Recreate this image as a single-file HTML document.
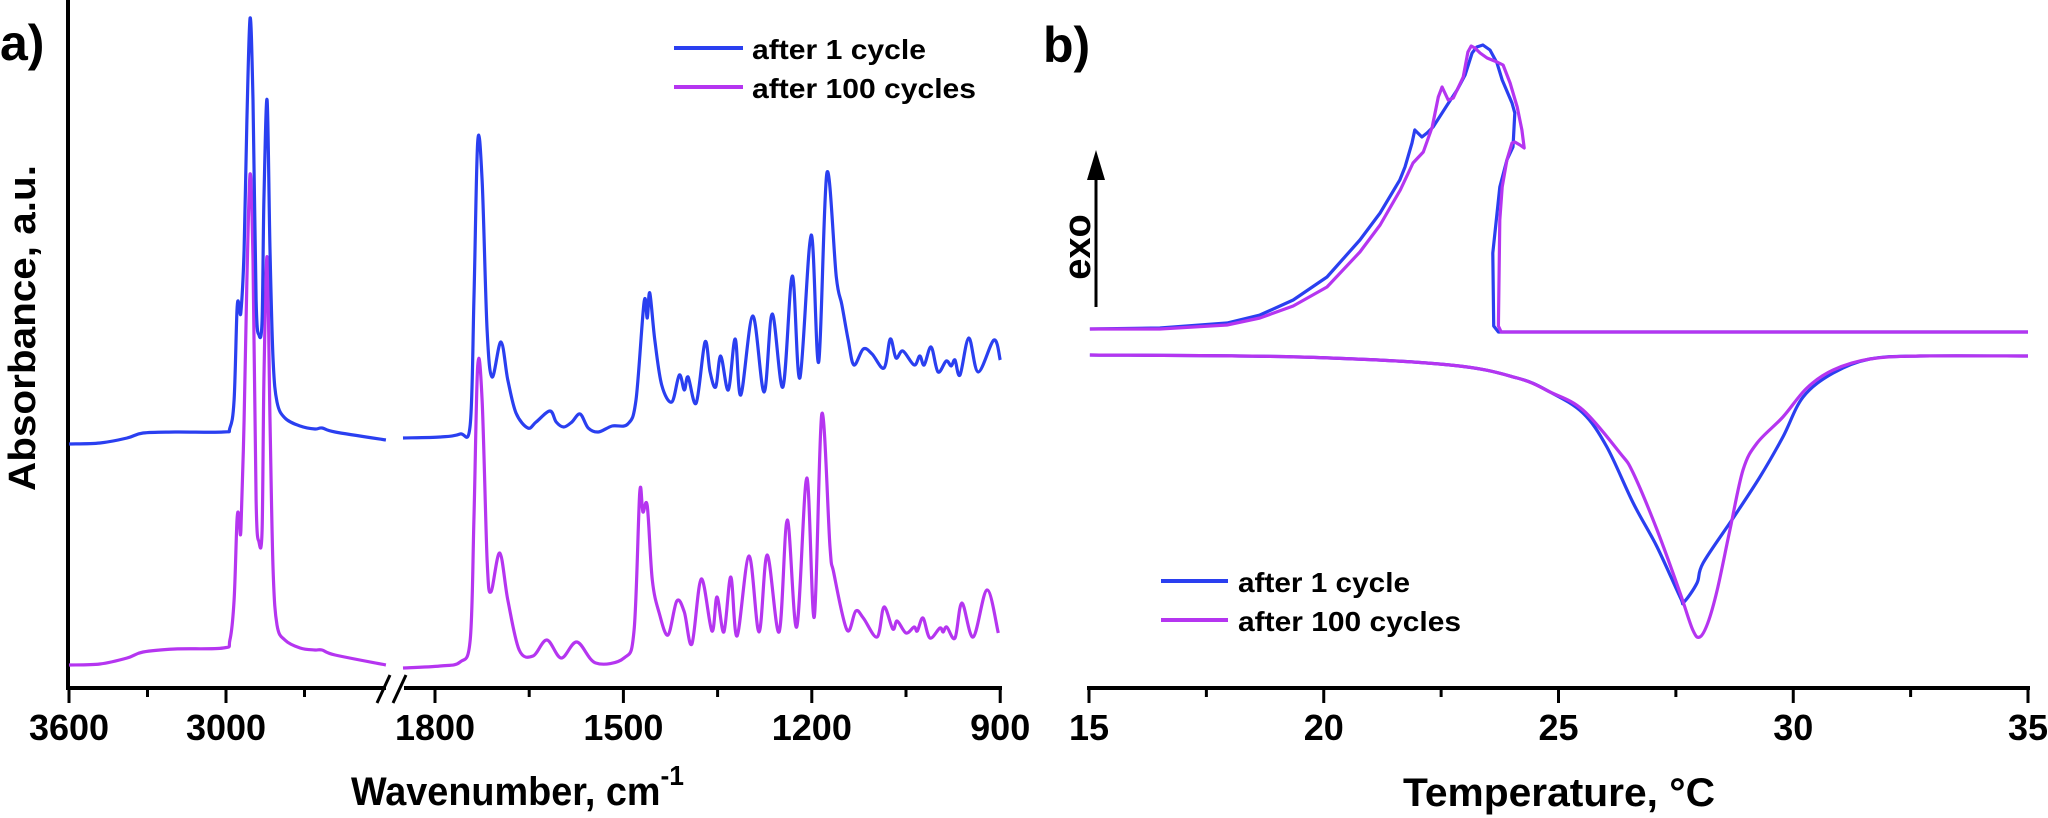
<!DOCTYPE html>
<html><head><meta charset="utf-8"><style>
html,body{margin:0;padding:0;background:#fff;}
svg{display:block;}
text{font-family:"Liberation Sans",sans-serif;font-weight:bold;fill:#000;}
</style></head><body>
<svg id="fig" width="2048" height="818" viewBox="0 0 2048 818" xmlns="http://www.w3.org/2000/svg">
<g id="axesA"></g>
<g id="axesB"></g>
<g id="plotA"></g>
<g id="plotB"></g>
<text x="0" y="60" font-size="50">a)</text>
<text x="1043" y="62" font-size="50">b)</text>
<text transform="translate(35,328) rotate(-90)" text-anchor="middle" font-size="38" textLength="326" lengthAdjust="spacingAndGlyphs">Absorbance, a.u.</text>
<text x="351" y="805" font-size="40" textLength="333" lengthAdjust="spacingAndGlyphs">Wavenumber, cm<tspan dy="-20" font-size="28">-1</tspan></text>
<text x="1403" y="806" font-size="40" textLength="312" lengthAdjust="spacingAndGlyphs">Temperature, °C</text>
<text transform="translate(1090,247) rotate(-90)" text-anchor="middle" font-size="38">exo</text>
<line x1="1096" y1="307" x2="1096" y2="165" stroke="#000" stroke-width="3"/>
<polygon points="1096,150 1087,180 1105,180" fill="#000"/>
<g>
<line x1="674" y1="48" x2="743" y2="48" stroke="#2a3ff0" stroke-width="4"/>
<text x="752" y="59" font-size="28" textLength="174" lengthAdjust="spacingAndGlyphs">after 1 cycle</text>
<line x1="674" y1="87" x2="743" y2="87" stroke="#b535f0" stroke-width="4"/>
<text x="752" y="98" font-size="28" textLength="224" lengthAdjust="spacingAndGlyphs">after 100 cycles</text>
</g>
<g>
<line x1="1161" y1="581" x2="1228" y2="581" stroke="#2a3ff0" stroke-width="4"/>
<text x="1238" y="592" font-size="28" textLength="172" lengthAdjust="spacingAndGlyphs">after 1 cycle</text>
<line x1="1161" y1="620" x2="1228" y2="620" stroke="#b535f0" stroke-width="4"/>
<text x="1238" y="631" font-size="28" textLength="223" lengthAdjust="spacingAndGlyphs">after 100 cycles</text>
</g>
</svg>
<script>
// ---- Panel a data (wavenumber, absorbance a.u. x100) ----
const blueLeftWn=[3600,3482,3378,3317,3195,3011,2985,2969,2958,2950,2943,2931,2920,2908,2897,2885,2874,2862,2855,2843,2832,2820,2805,2775,2717,2660,2633,2583,2389];
const blueLeftAbs=[244,245,250,255,256,256,260,288,378,384,376,438,568,670,588,388,353,368,488,588,438,328,286,270,262,259,260,256,248];
const magLeftWn=blueLeftWn.slice();
const magLeftAbs=[23,24,30,36,39,40,48,88,168,172,158,268,408,514,428,188,146,158,308,431,268,118,63,48,40,38,38,33,23];
const blueRightWn=[1851,1792,1760,1744,1738,1732,1725,1717,1709,1695,1684,1671,1652,1639,1617,1607,1595,1582,1569,1556,1540,1518,1493,1480,1467,1462,1458,1450,1439,1423,1411,1403,1397,1384,1370,1362,1353,1345,1333,1322,1313,1294,1276,1263,1246,1231,1219,1201,1189,1176,1161,1152,1142,1133,1118,1104,1085,1075,1066,1055,1037,1028,1021,1010,999,986,978,972,964,950,935,910,900];
const blueRightAbs=[250,251,254,263,388,546,508,358,311,346,308,275,260,266,277,266,261,266,274,260,256,262,264,288,386,370,395,348,303,286,313,298,311,285,346,316,301,332,298,349,293,372,296,374,301,412,310,453,326,515,411,383,348,323,339,334,320,349,330,337,323,332,323,341,316,327,322,328,313,350,316,348,328];
const magRightWn=[1851,1792,1760,1744,1738,1732,1725,1717,1711,1697,1684,1666,1644,1622,1599,1574,1544,1499,1483,1474,1469,1462,1454,1443,1429,1415,1403,1391,1376,1359,1351,1340,1329,1319,1300,1284,1271,1252,1239,1224,1208,1196,1184,1171,1165,1144,1130,1118,1096,1085,1071,1064,1050,1037,1032,1023,1012,996,991,985,972,961,943,921,903];
const magRightAbs=[20,22,26,48,168,322,288,128,96,135,88,38,32,48,30,46,25,30,58,195,176,182,108,75,53,87,76,44,109,57,91,56,111,52,132,56,133,56,168,61,210,71,274,141,115,58,77,70,51,81,59,67,55,61,57,70,50,60,56,61,50,85,51,98,55];
const ticksA=[3600,3000,1800,1500,1200,900];
const minorTicksA=[3300,2700,1650,1350,1050];

// ---- Panel b data (temperature °C, heat flow a.u.) ----
const coolBlueT=[35.0,23.72,23.62,23.60,23.75,23.90,24.03,24.07,24.01,23.80,23.69,23.54,23.39,23.26,23.16,23.01,22.84,22.63,22.33,22.20,22.09,21.94,21.88,21.73,21.62,21.20,20.77,20.07,19.35,18.64,17.94,16.51,15.02];
const coolBlueQ=[0,0,6,79,145,172,185,219,229,252,269,282,287,285,279,257,242,227,205,199,195,202,189,165,152,119,92,55,32,17,9,4,3];
const coolMagT=[35.0,23.78,23.72,23.75,23.80,23.90,24.01,24.07,24.18,24.27,24.22,24.12,23.97,23.82,23.69,23.48,23.33,23.22,23.14,23.07,22.97,22.76,22.65,22.52,22.44,22.31,22.12,21.90,21.63,21.20,20.77,20.07,19.35,18.64,17.94,16.51,15.02];
const coolMagQ=[0,0,6,112,145,172,189,190,187,184,202,225,249,267,270,274,279,284,286,280,255,234,232,245,235,205,180,169,142,107,80,45,26,14,7,3,3];
const heatBlueT=[15.02,19.49,22.69,24.12,24.82,25.52,26.03,26.59,27.10,27.59,27.67,27.95,28.08,28.72,29.29,29.78,30.21,30.85,31.63,32.70,35.0];
const heatBlueQ=[-23,-25,-33,-46,-60,-81,-115,-171,-215,-265,-270,-251,-231,-186,-145,-105,-65,-41,-27,-24,-24];
const heatMagT=[15.02,19.49,22.69,24.12,24.82,25.52,26.31,26.59,27.10,27.59,27.86,28.01,28.18,28.38,28.65,28.93,29.23,29.78,30.29,30.85,31.63,32.70,35.0];
const heatMagQ=[-23,-25,-33,-46,-60,-78,-121,-141,-198,-261,-298,-305,-291,-258,-198,-138,-111,-85,-56,-38,-27,-24,-24];
const ticksB=[15,20,25,30,35];
const minorTicksB=[17.5,22.5,27.5,32.5];

const NS="http://www.w3.org/2000/svg";
const BLUE="#2a3ff0", MAG="#b535f0";
const AXY=688;
function xa(wn){return wn>=2000 ? 69+(3600-wn)/600*157 : 435+(1800-wn)*0.628;}
function ya(v){return 688-v;}
function xb(t){return 1089+(t-15)*46.95;}
function yb(q){return 332-q;}

function mk(tag,attrs,parent){const e=document.createElementNS(NS,tag);for(const k in attrs)e.setAttribute(k,attrs[k]);parent.appendChild(e);return e;}
function smoothPath(pts){
  let d="M"+pts[0][0].toFixed(1)+","+pts[0][1].toFixed(1);
  for(let i=0;i<pts.length-1;i++){
    const p0=pts[Math.max(0,i-1)],p1=pts[i],p2=pts[i+1],p3=pts[Math.min(pts.length-1,i+2)];
    const c1=[p1[0]+(p2[0]-p0[0])/6,p1[1]+(p2[1]-p0[1])/6];
    const c2=[p2[0]-(p3[0]-p1[0])/6,p2[1]-(p3[1]-p1[1])/6];
    d+=" C"+c1[0].toFixed(1)+","+c1[1].toFixed(1)+" "+c2[0].toFixed(1)+","+c2[1].toFixed(1)+" "+p2[0].toFixed(1)+","+p2[1].toFixed(1);
  }
  return d;
}
function linePath(pts){return "M"+pts.map(p=>p[0].toFixed(1)+","+p[1].toFixed(1)).join(" L");}

const axA=document.getElementById('axesA'), axB=document.getElementById('axesB');
const plA=document.getElementById('plotA'), plB=document.getElementById('plotB');

let el=mk('line',{x1:68,y1:0,x2:68,y2:AXY+2,stroke:'#000','stroke-width':4},axA);
 
el=mk('line',{x1:66,y1:AXY,x2:386,y2:AXY,stroke:'#000','stroke-width':4},axA);
 
el=mk('line',{x1:404,y1:AXY,x2:1002,y2:AXY,stroke:'#000','stroke-width':4},axA);
 
el=mk('path',{d:'M377,703 L390,675 M393,703 L406,675',stroke:'#000','stroke-width':3,fill:'none'},axA);
 
ticksA.forEach(t=>{
  const x=xa(t);
  const l=mk('line',{x1:x,y1:AXY,x2:x,y2:AXY+15,stroke:'#000','stroke-width':3},axA);
   
  const tx=mk('text',{x:x,y:740,'text-anchor':'middle','font-size':36},axA);
  tx.textContent=t;
   
});
minorTicksA.forEach(t=>{
  const x=xa(t);
  const l=mk('line',{x1:x,y1:AXY,x2:x,y2:AXY+9,stroke:'#000','stroke-width':3},axA);
   
});

el=mk('line',{x1:1087,y1:AXY,x2:2030,y2:AXY,stroke:'#000','stroke-width':4},axB);
 
ticksB.forEach(t=>{
  const x=xb(t);
  const l=mk('line',{x1:x,y1:AXY,x2:x,y2:AXY+15,stroke:'#000','stroke-width':3},axB);
   
  const tx=mk('text',{x:x,y:740,'text-anchor':'middle','font-size':36},axB);
  tx.textContent=t;
   
});
minorTicksB.forEach(t=>{
  const x=xb(t);
  const l=mk('line',{x1:x,y1:AXY,x2:x,y2:AXY+9,stroke:'#000','stroke-width':3},axB);
   
});

function spec(wn,ab,color,name){
  const pts=wn.map((w,i)=>[xa(w),ya(ab[i])]);
  const p=mk('path',{d:smoothPath(pts),stroke:color,'stroke-width':3.2,fill:'none','stroke-linejoin':'round'},plA);
   
}
spec(magLeftWn,magLeftAbs,MAG,'spectrum-100cycles-high-wn');
spec(magRightWn,magRightAbs,MAG,'spectrum-100cycles-fingerprint');
spec(blueLeftWn,blueLeftAbs,BLUE,'spectrum-1cycle-high-wn');
spec(blueRightWn,blueRightAbs,BLUE,'spectrum-1cycle-fingerprint');

function dsc(T,Q,color,name,smooth){
  const pts=T.map((t,i)=>[xb(t),yb(Q[i])]);
  const p=mk('path',{d:smooth?smoothPath(pts):linePath(pts),stroke:color,'stroke-width':3.2,fill:'none','stroke-linejoin':'round'},plB);
   
}
dsc(heatBlueT,heatBlueQ,BLUE,'heating-curve-1cycle',true);
dsc(heatMagT,heatMagQ,MAG,'heating-curve-100cycles',true);
dsc(coolBlueT,coolBlueQ,BLUE,'cooling-curve-1cycle',false);
dsc(coolMagT,coolMagQ,MAG,'cooling-curve-100cycles',false);
</script>
</body></html>
